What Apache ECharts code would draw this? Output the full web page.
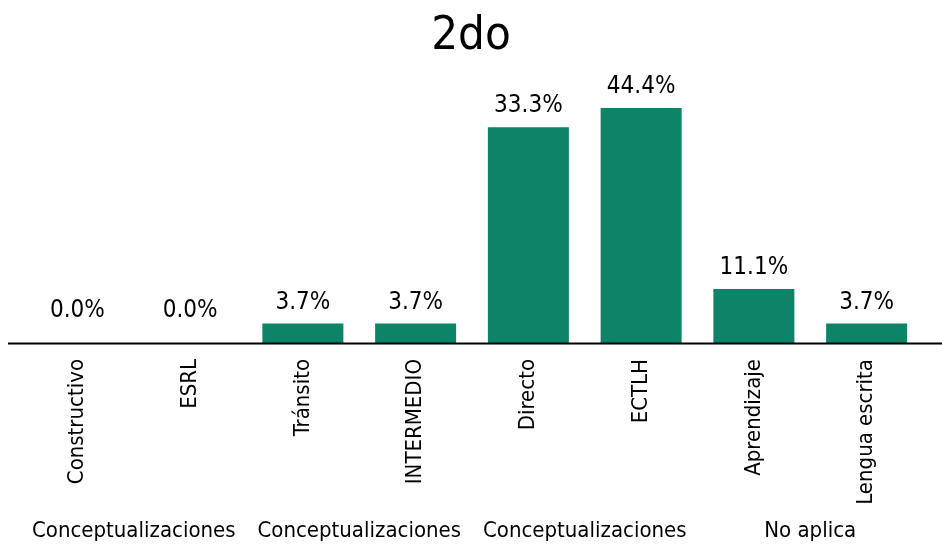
<!DOCTYPE html>
<html>
<head>
<meta charset="utf-8">
<script src="https://cdn.jsdelivr.net/npm/echarts@6/dist/echarts.min.js"></script>
<style>
  html, body { margin: 0; padding: 0; background: #fff; }
  #chart { width: 942px; height: 548px; }
</style>
</head>
<body>
<div id="chart"></div>
<script>
// categories and groups
var categories = ['Constructivo', 'ESRL', 'Tránsito', 'INTERMEDIO', 'Directo', 'ECTLH', 'Aprendizaje', 'Lengua escrita'];
var groups = ['Conceptualizaciones', 'Conceptualizaciones', 'Conceptualizaciones', 'No aplica'];
// printed percentages
var pctLabels = [0.0, 0.0, 3.7, 3.7, 33.3, 44.4, 11.1, 3.7];
// bar lengths as drawn in the picture (same scale as 44.4 bar)
var barLengths = [0, 0, 3.7, 3.7, 40.8, 44.4, 10.2, 3.7];

var font = '"Liberation Sans Narrow", "DejaVu Sans Condensed", "Noto Sans", sans-serif';

var dom = document.getElementById('chart');
var myChart = echarts.init(dom, null, { renderer: 'canvas' });

var barData = barLengths.map(function (v, i) {
    return {
        value: v,
        label: { distance: v === 0 ? 20 : 9 }
    };
});

var option = {
    animation: false,
    title: {
        text: '2do',
        left: 'center',
        top: 8,
        textStyle: { fontFamily: font, fontSize: 47, fontWeight: 'normal', color: '#000' }
    },
    grid: { left: 21, right: 19, top: 78.5, bottom: 205 },
    xAxis: [{
        type: 'category',
        data: categories,
        axisLine: { show: false },
        axisTick: { show: false },
        axisLabel: {
            rotate: 90,
            interval: 0,
            margin: 16,
            fontFamily: font,
            fontSize: 22,
            color: '#000'
        }
    }, {
        type: 'category',
        data: groups,
        position: 'bottom',
        offset: 177,
        axisLine: { show: false },
        axisTick: { show: false },
        axisLabel: {
            interval: 0,
            margin: 0,
            fontFamily: font,
            fontSize: 22,
            color: '#000'
        }
    }],
    yAxis: {
        type: 'value',
        min: 0,
        max: 50,
        show: false
    },
    graphic: [{
        type: 'line',
        shape: { x1: 8, y1: 343.5, x2: 942, y2: 343.5 },
        style: { stroke: '#000', lineWidth: 2 },
        z: 10
    }],
    series: [{
        type: 'bar',
        data: barData,
        barWidth: 81,
        itemStyle: { color: '#0d8468' },
        label: {
            show: true,
            position: 'top',
            fontFamily: font,
            fontSize: 24,
            color: '#000',
            formatter: function (p) { return pctLabels[p.dataIndex].toFixed(1) + '%'; }
        }
    }]
};

myChart.setOption(option);
window.addEventListener('resize', myChart.resize);
</script>
</body>
</html>
